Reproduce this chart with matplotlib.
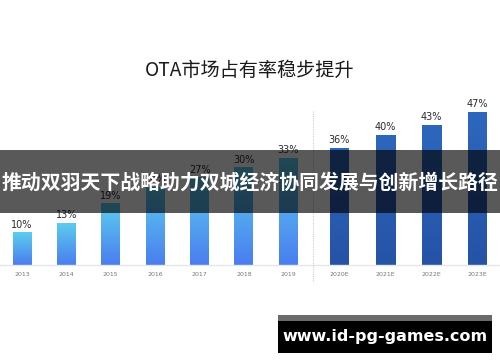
import numpy as np
import matplotlib
matplotlib.use('Agg')
import matplotlib.pyplot as plt
from matplotlib.patches import Rectangle
from matplotlib.colors import LinearSegmentedColormap

plt.rcParams['font.family'] = ['Noto Sans CJK SC', 'DejaVu Sans']

# data
years = ['2013', '2014', '2015', '2016', '2017', '2018', '2019',
         '2020E', '2021E', '2022E', '2023E']
share = [10, 13, 19, 24, 27, 30, 33, 36, 40, 43, 47]
n_actual = 7
title = 'OTA市场占有率稳步提升'
banner = '推动双羽天下战略助力双城经济协同发展与创新增长路径'
site = 'www.id-pg-games.com'

W, H = 500, 362
fig = plt.figure(figsize=(W / 100, H / 100), dpi=100)
fig.patch.set_facecolor('white')


# pixel box (top-left origin) -> figure fraction
def px_box(x0, y0, x1, y1):
    return [x0 / W, 1 - y1 / H, (x1 - x0) / W, (y1 - y0) / H]


unit = 44.4  # px per category
x_left = 22.0
axes_top, base_y = 40, 265
ax = fig.add_axes(px_box(0, axes_top, W, base_y))
ax.set_xlim(-x_left / unit, (W - x_left) / unit)
ax.set_ylim(0, (base_y - axes_top) / 3.255)
ax.axis('off')

pos = np.concatenate([np.arange(n_actual), 7.15 + np.arange(len(years) - n_actual) * 1.035])

cm_actual = LinearSegmentedColormap.from_list('a', ['#4a7ef0', '#5ccdee'])
cm_fcst = LinearSegmentedColormap.from_list('f', ['#2553a6', '#2d67bd'])
grad = np.linspace(0, 1, 64).reshape(-1, 1)

bw = 19 / unit
for i, (p, v) in enumerate(zip(pos, share)):
    cmap = cm_actual if i < n_actual else cm_fcst
    rect = Rectangle((p - bw / 2, 0), bw, v, facecolor='none', edgecolor='none')
    ax.add_patch(rect)
    im = ax.imshow(grad, cmap=cmap, origin='lower', aspect='auto',
                   extent=(p - bw / 2, p + bw / 2, 0, v), zorder=2)
    im.set_clip_path(rect)
    ax.text(p, v + 0.8, '{}%'.format(v), ha='center', va='bottom',
            fontsize=7, color='#2b2b2b', family='DejaVu Sans')
    ax.text(p, -2.2, years[i], ha='center', va='top', fontsize=4.5,
            color='#777777', family='DejaVu Sans')

# baseline and divider
ax.plot([-x_left / unit, (W - x_left) / unit], [0, 0], color='#e3e6ea', lw=1, clip_on=False)
div_x = (313 - x_left) / unit
ax.plot([div_x, div_x], [-5, (base_y - 110) / 3.255], color='#cfcfcf', lw=0.8,
        ls=(0, (1, 1)), clip_on=False)
ax.set_xlim(-x_left / unit, (W - x_left) / unit)

fig.text(0.5, 1 - 70 / H, title, ha='center', va='center', fontsize=13.8, color='#1a1a1a')

# banner overlay
fig.patches.append(Rectangle((0, 1 - 213 / H), 1, 63 / H, transform=fig.transFigure,
                             facecolor='black', alpha=0.65, edgecolor='none', zorder=5))
fig.text(0.5, 1 - 182 / H, banner, ha='center', va='center', fontsize=14.3,
         fontweight='bold', color='white', zorder=6)

# watermark
fig.patches.append(Rectangle((278 / W, 1 - 321 / H), 214 / W, 6 / H, transform=fig.transFigure,
                             facecolor='#6b6b6b', edgecolor='none', zorder=5))
fig.patches.append(Rectangle((278 / W, 1 - 353 / H), 214 / W, 32 / H, transform=fig.transFigure,
                             facecolor='black', edgecolor='none', zorder=5))
fig.text(385 / W, 1 - 337 / H, site, ha='center', va='center', fontsize=11.5,
         fontweight='bold', color='white', family='DejaVu Sans', zorder=6)

fig.savefig('out.png', dpi=100)
